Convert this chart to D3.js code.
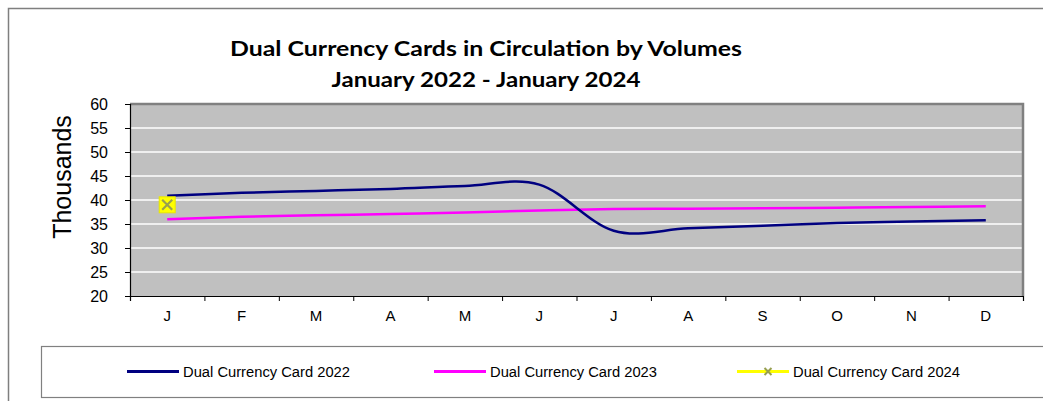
<!DOCTYPE html>
<html>
<head>
<meta charset="utf-8">
<script src="https://cdn.jsdelivr.net/npm/d3@7"></script>
<style>
  html, body { margin: 0; padding: 0; background: #ffffff; }
  svg { display: block; }
</style>
</head>
<body>
<svg id="chart" width="1043" height="401"></svg>
<script>
// ---- data ----
const monthLabels = ["J", "F", "M", "A", "M", "J", "J", "A", "S", "O", "N", "D"];
const series2022 = [40.9, 41.5, 41.9, 42.3, 42.9, 43.2, 33.6, 34.1, 34.65, 35.2, 35.5, 35.8];
const series2023 = [36.0, 36.5, 36.8, 37.1, 37.4, 37.8, 38.1, 38.2, 38.3, 38.4, 38.55, 38.7];
const series2024 = [39.0];
const yTicks = [20, 25, 30, 35, 40, 45, 50, 55, 60];
const seriesNames = ["Dual Currency Card 2022", "Dual Currency Card 2023", "Dual Currency Card 2024"];
const titleLines = ["Dual Currency Cards in Circulation by Volumes", "January 2022 - January 2024"];
const yAxisTitle = "Thousands";

// ---- layout ----
const svg = d3.select("#chart");
const plot = { left: 130, right: 1023, top: 104, bottom: 296 };

// outer chart border (partially visible)
svg.append("path")
  .attr("d", "M8.5,401 L8.5,8.5 L1043,8.5")
  .attr("fill", "none").attr("stroke", "#7f7f7f").attr("stroke-width", 1.5);

// title
const titleFont = "Lato, 'Open Sans', sans-serif";
svg.append("text").attr("x", 486).attr("y", 56).attr("text-anchor", "middle")
  .attr("font-family", titleFont).attr("font-weight", "bold").attr("font-size", 20.5)
  .attr("textLength", 512).attr("lengthAdjust", "spacingAndGlyphs")
  .attr("fill", "#000").text(titleLines[0]);
svg.append("text").attr("x", 486).attr("y", 87).attr("text-anchor", "middle")
  .attr("font-family", titleFont).attr("font-weight", "bold").attr("font-size", 20.5)
  .attr("textLength", 309).attr("lengthAdjust", "spacingAndGlyphs")
  .attr("fill", "#000").text(titleLines[1]);

// scales
const x = d3.scaleBand().domain(d3.range(monthLabels.length)).range([plot.left, plot.right]).padding(0);
const xEdge = d3.scaleLinear().domain([0, monthLabels.length]).range([plot.left, plot.right]);
const y = d3.scaleLinear().domain([20, 60]).range([plot.bottom, plot.top]);
const cx = i => x(i) + x.bandwidth() / 2;

// plot background
svg.append("rect").attr("x", plot.left).attr("y", plot.top)
  .attr("width", plot.right - plot.left).attr("height", plot.bottom - plot.top)
  .attr("fill", "#c0c0c0");

// gridlines
svg.append("g").selectAll("line").data(yTicks.filter(t => t > 20 && t < 60)).join("line")
  .attr("x1", plot.left).attr("x2", plot.right)
  .attr("y1", d => y(d)).attr("y2", d => y(d))
  .attr("stroke", "#ffffff").attr("stroke-width", 1.5);

// top and right frame
svg.append("path")
  .attr("d", `M${plot.left},${plot.top} L${plot.right},${plot.top} L${plot.right},${plot.bottom}`)
  .attr("fill", "none").attr("stroke", "#808080").attr("stroke-width", 2.5);

// y axis
const yAxis = svg.append("g").attr("transform", `translate(${plot.left},0)`)
  .call(d3.axisLeft(y).tickValues(yTicks).tickSize(5).tickPadding(17).tickFormat(d3.format("d")));
yAxis.select(".domain").attr("stroke", "#000").attr("stroke-width", 1.2);
yAxis.selectAll(".tick line").attr("stroke", "#000");
yAxis.selectAll("text").attr("font-family", "'Liberation Sans', Arial, sans-serif")
  .attr("font-size", 16).attr("fill", "#000");

// x axis: boundary ticks
const xTickAxis = svg.append("g").attr("transform", `translate(0,${plot.bottom})`)
  .call(d3.axisBottom(xEdge).tickValues(d3.range(monthLabels.length + 1)).tickSize(5).tickFormat(""));
xTickAxis.select(".domain").attr("stroke", "#000").attr("stroke-width", 1.2);
xTickAxis.selectAll(".tick line").attr("stroke", "#000");

// x axis: labels
const xLabelAxis = svg.append("g").attr("transform", `translate(0,${plot.bottom})`)
  .call(d3.axisBottom(x).tickSize(0).tickPadding(14).tickFormat(i => monthLabels[i]));
xLabelAxis.select(".domain").remove();
xLabelAxis.selectAll("text").attr("font-family", "'Liberation Sans', Arial, sans-serif")
  .attr("font-size", 15).attr("fill", "#000");

// y axis title
svg.append("text")
  .attr("transform", "translate(71,177) rotate(-90)")
  .attr("text-anchor", "middle")
  .attr("font-family", "'Liberation Sans', Arial, sans-serif").attr("font-size", 25)
  .attr("fill", "#000").text(yAxisTitle);

// lines
const line = d3.line().x((d, i) => cx(i)).y(d => y(d)).curve(d3.curveCardinal.tension(0));
svg.append("path").datum(series2023).attr("d", line)
  .attr("fill", "none").attr("stroke", "#ff00ff").attr("stroke-width", 2.5);
svg.append("path").datum(series2022).attr("d", line)
  .attr("fill", "none").attr("stroke", "#000080").attr("stroke-width", 2.5);

// 2024 marker(s)
function drawMarker(g, px, py, size, withBox) {
  const h = size / 2;
  if (withBox) {
    g.append("rect").attr("x", px - h).attr("y", py - h).attr("width", size).attr("height", size)
      .attr("fill", "#ffff00").attr("stroke", "#e8e800").attr("stroke-width", 1);
  }
  const k = h - 3;
  g.append("path").attr("d", `M${px - k},${py - k} L${px + k},${py + k} M${px - k},${py + k} L${px + k},${py - k}`)
    .attr("stroke", "#98a050").attr("stroke-width", 2.2).attr("fill", "none");
}
const m24 = svg.append("g");
series2024.forEach((v, i) => drawMarker(m24, cx(i), y(v), 16, true));

// legend
svg.append("rect").attr("x", 41.5).attr("y", 346.5).attr("width", 1010).attr("height", 51)
  .attr("fill", "#fff").attr("stroke", "#808080").attr("stroke-width", 1.2);
const legendX = [127, 434, 737];
const legendColors = ["#000080", "#ff00ff", "#ffff00"];
const legendY = 371.5;
seriesNames.forEach((name, i) => {
  const lx = legendX[i];
  svg.append("line").attr("x1", lx).attr("x2", lx + 52).attr("y1", legendY).attr("y2", legendY)
    .attr("stroke", legendColors[i]).attr("stroke-width", 3);
  if (i === 2) {
    const k = 3.5;
    const mx = lx + 31;
    svg.append("path").attr("d", `M${mx - k},${legendY - k} L${mx + k},${legendY + k} M${mx - k},${legendY + k} L${mx + k},${legendY - k}`)
      .attr("stroke", "#98a050").attr("stroke-width", 2).attr("fill", "none");
  }
  svg.append("text").attr("x", lx + 56).attr("y", legendY + 5)
    .attr("font-family", "'Liberation Sans Narrow', 'Liberation Sans', Arial, sans-serif")
    .attr("font-size", 14).attr("fill", "#000")
    .attr("textLength", 167).attr("lengthAdjust", "spacingAndGlyphs")
    .text(name);
});
</script>
</body>
</html>
